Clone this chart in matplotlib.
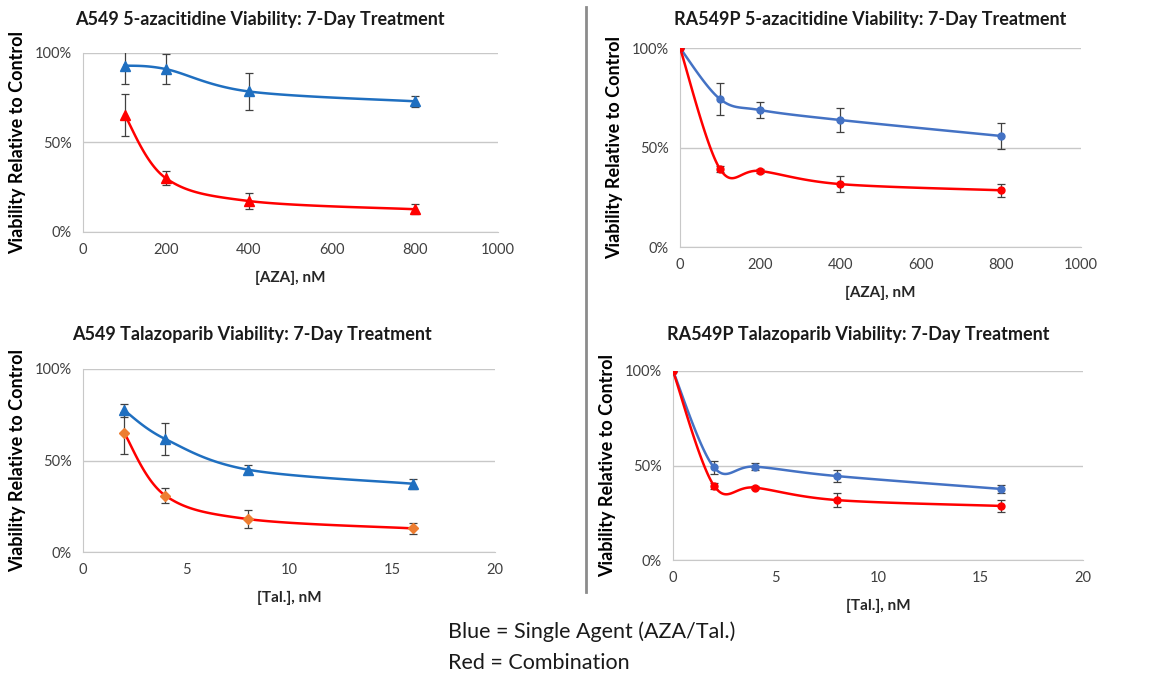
#!/usr/bin/env python3
"""Four-panel viability plot: A549 / RA549P with 5-azacitidine and talazoparib."""

import matplotlib
matplotlib.use("Agg")
import matplotlib.pyplot as plt
import numpy as np
from matplotlib.ticker import PercentFormatter

plt.rcParams["font.family"] = ["Lato", "DejaVu Sans"]

W, H = 1165, 675

# A549, 5-azacitidine
A549_AZA_DOSE = [100, 200, 400, 800]
A549_AZA_SINGLE = [0.93, 0.91, 0.785, 0.73]
A549_AZA_SINGLE_ERR = [0.105, 0.085, 0.103, 0.03]
A549_AZA_COMBO = [0.655, 0.30, 0.173, 0.127]
A549_AZA_COMBO_ERR = [0.116, 0.04, 0.047, 0.028]

# RA549P, 5-azacitidine
RA_AZA_DOSE = [0, 100, 200, 400, 800]
RA_AZA_SINGLE = [1.0, 0.743, 0.688, 0.638, 0.558]
RA_AZA_SINGLE_ERR = [0.0, 0.08, 0.042, 0.058, 0.066]
RA_AZA_COMBO = [1.0, 0.391, 0.382, 0.316, 0.285]
RA_AZA_COMBO_ERR = [0.0, 0.015, 0.008, 0.042, 0.033]

# A549, talazoparib
A549_TAL_DOSE = [2, 4, 8, 16]
A549_TAL_SINGLE = [0.774, 0.617, 0.45, 0.373]
A549_TAL_SINGLE_ERR = [0.035, 0.087, 0.024, 0.027]
A549_TAL_COMBO = [0.65, 0.308, 0.18, 0.129]
A549_TAL_COMBO_ERR = [0.114, 0.041, 0.047, 0.028]

# RA549P, talazoparib
RA_TAL_DOSE = [0, 2, 4, 8, 16]
RA_TAL_SINGLE = [1.0, 0.49, 0.494, 0.444, 0.376]
RA_TAL_SINGLE_ERR = [0.0, 0.035, 0.02, 0.03, 0.02]
RA_TAL_COMBO = [1.0, 0.393, 0.383, 0.317, 0.286]
RA_TAL_COMBO_ERR = [0.0, 0.015, 0.008, 0.038, 0.03]

BLUE_LEFT = "#1F6FC0"
BLUE_RIGHT = "#4472C4"
RED = "#FF0000"
ORANGE = "#ED7D31"


def box(left, top, right, bottom):
    """Pixel box -> figure-fraction rect."""
    return [left / W, 1 - bottom / H, (right - left) / W, (bottom - top) / H]


def smooth_line(ax, xs, ys):
    """Excel-style smoothed line: cubic Bezier through points in screen space."""
    pts = ax.transData.transform(np.column_stack([xs, ys]))
    n = len(pts)
    curve = [pts[0]]
    t = np.linspace(0, 1, 30)[1:, None]
    for i in range(n - 1):
        p0 = pts[max(i - 1, 0)]
        p1 = pts[i]
        p2 = pts[i + 1]
        p3 = pts[min(i + 2, n - 1)]
        c1 = p1 + (p2 - p0) / 6
        c2 = p2 - (p3 - p1) / 6
        seg = ((1 - t) ** 3) * p1 + 3 * ((1 - t) ** 2) * t * c1 \
            + 3 * (1 - t) * t ** 2 * c2 + t ** 3 * p2
        curve.extend(seg)
    return ax.transData.inverted().transform(np.array(curve))


def draw_series(ax, xs, ys, errs, line_color, marker, marker_color, msize):
    ax.errorbar(xs, ys, yerr=errs, fmt="none", ecolor="#404040",
                elinewidth=0.9, capsize=3, capthick=0.9, zorder=2)
    curve = smooth_line(ax, xs, ys)
    ax.plot(curve[:, 0], curve[:, 1], color=line_color, lw=1.8, zorder=3)
    ax.plot(xs, ys, linestyle="none", marker=marker, color=marker_color,
            markersize=msize, zorder=4)


def setup_axes(ax, xmax, xstep, xlabel):
    ax.set_xlim(0, xmax)
    ax.set_ylim(0, 1)
    ax.set_xticks(np.arange(0, xmax + 1, xstep))
    ax.set_yticks([0, 0.5, 1.0])
    ax.yaxis.set_major_formatter(PercentFormatter(1.0, decimals=0))
    ax.tick_params(length=0, labelsize=10.5, labelcolor="#404040", pad=8)
    ax.grid(axis="y", color="#C8C8C8", lw=1)
    ax.set_axisbelow(True)
    for side in ("top", "right"):
        ax.spines[side].set_visible(False)
    for side in ("left", "bottom"):
        ax.spines[side].set_color("#C8C8C8")
    ax.set_xlabel(xlabel, fontsize=11, fontweight="bold", color="#262626", labelpad=10)
    ax.set_ylabel("Viability Relative to Control", fontsize=13,
                  fontweight="bold", labelpad=6)


def main():
    fig = plt.figure(figsize=(W / 100, H / 100), dpi=100)

    panels = [
        (box(83, 53, 498, 232), 1000, 200, "[AZA], nM",
         "A549 5-azacitidine Viability: 7-Day Treatment", (260, 20),
         [(A549_AZA_DOSE, A549_AZA_SINGLE, A549_AZA_SINGLE_ERR, BLUE_LEFT, "^", BLUE_LEFT, 6.5),
          (A549_AZA_DOSE, A549_AZA_COMBO, A549_AZA_COMBO_ERR, RED, "^", RED, 6.5)]),
        (box(680, 48, 1081, 247), 1000, 200, "[AZA], nM",
         "RA549P 5-azacitidine Viability: 7-Day Treatment", (870, 20),
         [(RA_AZA_DOSE, RA_AZA_SINGLE, RA_AZA_SINGLE_ERR, BLUE_RIGHT, "o", BLUE_RIGHT, 5),
          (RA_AZA_DOSE, RA_AZA_COMBO, RA_AZA_COMBO_ERR, RED, "o", RED, 5)]),
        (box(83, 369, 495, 552), 20, 5, "[Tal.], nM",
         "A549 Talazoparib Viability: 7-Day Treatment", (252, 335),
         [(A549_TAL_DOSE, A549_TAL_SINGLE, A549_TAL_SINGLE_ERR, BLUE_LEFT, "^", BLUE_LEFT, 6.5),
          (A549_TAL_DOSE, A549_TAL_COMBO, A549_TAL_COMBO_ERR, RED, "D", ORANGE, 5)]),
        (box(673, 371, 1083, 560), 20, 5, "[Tal.], nM",
         "RA549P Talazoparib Viability: 7-Day Treatment", (858, 335),
         [(RA_TAL_DOSE, RA_TAL_SINGLE, RA_TAL_SINGLE_ERR, BLUE_RIGHT, "o", BLUE_RIGHT, 5),
          (RA_TAL_DOSE, RA_TAL_COMBO, RA_TAL_COMBO_ERR, RED, "o", RED, 5)]),
    ]

    for rect, xmax, xstep, xlabel, title, (tx, ty), series in panels:
        ax = fig.add_axes(rect)
        setup_axes(ax, xmax, xstep, xlabel)
        for xs, ys, errs, lc, mk, mc, ms in series:
            draw_series(ax, xs, ys, errs, lc, mk, mc, ms)
        fig.text(tx / W, 1 - ty / H, title, ha="center", va="center",
                 fontsize=13, fontweight="bold", color="#1a1a1a")

    # divider between the two columns
    fig.add_artist(plt.Line2D([586 / W, 586 / W], [1 - 7 / H, 1 - 592 / H],
                              color="#8C8C8C", lw=2))

    fig.text(448 / W, 1 - 632 / H, "Blue = Single Agent (AZA/Tal.)",
             ha="left", va="center", fontsize=15.5, color="#1a1a1a")
    fig.text(448 / W, 1 - 663 / H, "Red = Combination",
             ha="left", va="center", fontsize=15.5, color="#1a1a1a")

    fig.savefig("out.png", dpi=100)
    plt.close(fig)


if __name__ == "__main__":
    main()
